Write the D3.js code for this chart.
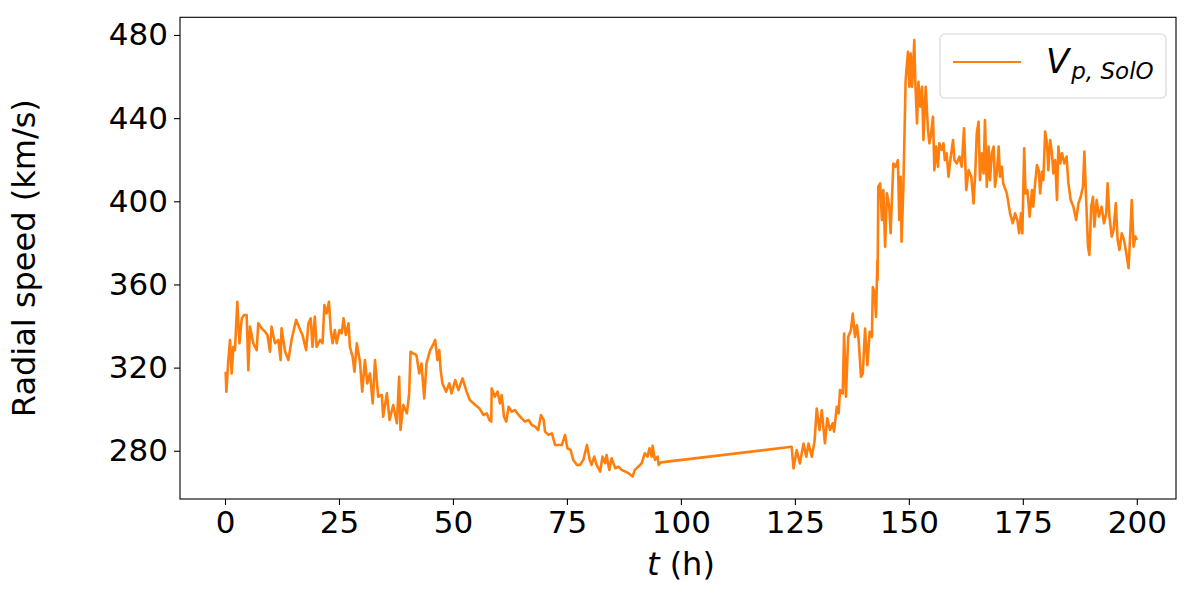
<!DOCTYPE html>
<html>
<head>
<meta charset="utf-8">
<script src="https://cdn.jsdelivr.net/npm/d3@7"></script>
<style>
  body { margin: 0; background: #fff; }
  text { font-family: "DejaVu Sans", sans-serif; }
</style>
</head>
<body>
<div id="chart"></div>
<script>
// hours since start
var tHours = [
  0.15, 0.3, 0.73, 1.1, 1.46, 1.83, 2.19, 2.7, 3.17, 3.68, 4.2, 4.75, 5.12, 5.49, 6.2, 6.95,
  7.3, 8.05, 8.78, 9.3, 9.87, 10.2, 10.97, 11.7, 12.2, 12.4, 13.2, 13.9, 14.6, 15.6, 16.5, 17.0,
  17.8, 18.3, 18.8, 19.2, 19.7, 20.1, 20.84, 21.4, 21.8, 22.3, 22.8, 23.2, 23.6, 24.1, 24.5, 25.1,
  25.6, 26.0, 26.5, 27.1, 27.4, 28.0, 28.4, 28.9, 29.6, 30.1, 30.7, 31.2, 31.8, 32.4, 32.9, 33.6,
  34.4, 34.7, 35.5, 36.1, 36.9, 37.7, 38.2, 38.5, 39.1, 39.9, 40.4, 40.7, 41.3, 42.0, 42.6, 43.1,
  43.7, 44.2, 45.0, 45.6, 46.1,
  46.6, 47.0, 47.3, 47.7, 48.5, 49.2, 49.7, 50.5, 51.2, 52.1, 53.0, 53.7, 54.9, 55.8, 56.7, 57.4,
  58.0, 58.4, 58.5, 59.2, 59.8, 60.3, 60.7, 61.2, 61.7, 62.2, 62.9, 63.6, 64.4, 65.1, 65.8, 66.6,
  67.3, 68.0, 68.7, 69.3, 69.9, 70.2, 71.0, 71.7, 72.4, 73.1, 73.9, 74.6, 75.1, 75.8, 76.4, 77.2,
  77.9, 78.6, 79.4, 80.0, 80.4, 81.0, 81.5, 82.3, 82.8, 83.4, 83.7, 84.3, 84.8, 85.6, 86.3, 87.0,
  87.8, 88.5, 89.4, 89.9, 90.7, 91.4, 92.1, 92.7, 93.1, 93.6, 93.8, 94.3, 94.9, 95.1, 95.6,
  124.3, 124.7, 125.4, 126.1, 126.9, 127.5, 128.0, 128.7, 129.3, 129.8, 130.4, 130.9,
  131.6, 132.1, 132.7, 133.3, 133.6, 134.2, 134.6, 134.9, 135.5, 135.8, 136.2, 136.7, 137.3, 137.7,
  138.2, 138.6, 139.0, 139.5, 139.9, 140.4, 140.9, 141.4, 141.9, 142.1, 142.5, 142.8, 143.1,
  143.15, 143.3, 143.7, 144.1, 144.4, 144.8, 145.2, 145.7, 146.0, 146.6, 147.1, 147.6, 147.9, 148.2,
  148.4, 148.8, 149.3, 149.8, 150.1, 150.4, 150.7, 151.2, 151.4, 151.8, 152.1, 152.5, 152.9, 153.2,
  153.7, 154.2, 154.5, 154.8, 155.3, 155.6, 156.0, 156.4, 156.7, 157.2, 157.6, 157.9, 158.3, 158.7,
  159.1, 159.7, 160.0, 160.5, 161.1, 161.6, 162.1, 162.6, 163.1, 163.7, 164.2, 164.6, 164.9, 165.3,
  165.6, 166.0, 166.4, 166.7, 167.1, 167.5, 167.8, 168.2, 168.6, 168.9, 169.3, 169.7, 170.0, 170.4,
  170.7, 171.5, 172.2,
  172.8, 173.3, 173.8, 174.2, 174.6, 174.9, 175.3, 175.6, 176.0, 176.5, 177.0, 177.3, 177.7, 178.1,
  178.5, 178.8, 179.2, 179.5, 179.9, 180.3, 180.6, 181.0, 181.4, 181.7, 182.1, 182.5, 182.8, 183.2,
  183.6, 184.1, 184.6, 185.0, 185.5, 186.1, 186.7, 187.2, 187.7, 188.2, 188.5, 188.9, 189.3, 189.6,
  190.0, 190.4, 190.7, 191.2, 191.7, 192.3, 192.8, 193.3, 193.6, 194.0, 194.5, 194.9, 195.4, 195.8,
  196.2, 196.7, 197.2, 197.7, 198.2, 198.5, 198.9, 199.3, 199.7, 200.0
];

// radial proton speed, km/s
var vSpeed = [
  318, 308.4, 323.6, 333.3, 317.2, 330, 328.4, 351.7, 331.7, 343.7, 345.3, 345.3, 318.8, 339.7, 331.7, 328.4,
  341.3, 338.9, 337.3, 335.7, 327.6, 339.7, 331.7, 333.3, 323.6, 338.9, 327.6, 323.6, 333.3, 343, 338.1, 335.7,
  328.4, 341.3, 343.7, 330, 344.5, 330, 333.3, 331.7, 350.1, 346.1, 351.7, 338.1, 331.7, 338.1, 331.7, 338.1,
  336.5, 343.7, 335.7, 341.3, 330, 325.2, 318, 331.7, 322.8, 308.4, 323.6, 312.4, 317.2, 302.8, 323.6, 306,
  306.8, 296.4, 307.6, 294.8, 302, 293.2, 315.6, 290, 302, 298, 307.6, 327.6, 326.8, 326, 317.2, 322,
  305.2, 322, 328.4, 330.8, 333.3,
  323.6, 328.4, 318.8, 312.4, 308.4, 312.4, 307.6, 314, 309.2, 314.8, 308.4, 304.4, 302, 300.4, 297.2, 298,
  294.8, 294, 310, 306, 308.4, 302.8, 306.8, 296.4, 294, 301.2, 298.8, 299.6, 297.2, 295.6, 294, 294.8,
  292.4, 291.6, 290, 297.2, 294.8, 289.2, 287.6, 288.4, 282.8, 282.8, 282.8, 287.6, 281.2, 280.4, 275.6, 273.2,
  273.2, 275.6, 282.8, 275.6, 273.2, 277.2, 273.2, 270, 277.2, 274, 278, 270.8, 276.4, 271.6, 272.4, 270.8,
  270, 269.2, 267.6, 270.8, 272.4, 274, 278.8, 277.2, 281.2, 277.2, 282.4, 275.6, 277.2, 273.2, 274.4,
  281.9, 271.5, 280.3, 273.9, 283.5, 277.1, 283.5, 277.1, 284.3, 300.3, 289.9, 299.5,
  283.6, 295.6, 290, 293.2, 289.2, 301.2, 298, 309.2, 307.6, 336.4, 306, 334.8, 338, 346,
  334.8, 340.4, 333.2, 315.6, 317.2, 338.8, 321.2, 337.2, 334.8, 358.8, 355.6, 344.4, 371.6,
  362.1, 407, 408.6, 391, 405.4, 378.2, 403.8, 397.4, 384.6, 418.2, 416.6, 419.8, 391, 411.8,
  380.6, 407, 458.3, 471.9, 455.1, 471.1, 455.1, 477.5, 458.3, 437.5, 457.5, 445.5, 455.1, 429.5,
  455.1, 434.3, 427.9, 431.1, 440.7, 415, 426.3, 416.6, 427.9, 424.7, 427.9, 419.8, 423.1, 411.8,
  419.8, 429.5, 419.8, 418.2, 421.5, 416.6, 435.1, 405.4, 415, 411.8, 399, 415, 432.7, 438.3,
  410.2, 423.1, 413.4, 439.1, 407, 426.3, 410.2, 423.1, 426.3, 407, 413.4, 426.3, 411.8, 416.6,
  408.6, 403.8, 394.2,
  389.4, 394.2, 391, 384.6, 394.2, 384.6, 425.5, 403.8, 405.4, 392.6, 405.4, 397.4, 408.6, 417.4,
  415, 403.8, 414.2, 410.2, 433.5, 427.9, 415, 429.5, 423.1, 413.4, 419.8, 400.6, 426.3, 418.2,
  423.1, 418.2, 421.5, 408.6, 400.6, 397.4, 391, 399, 402.2, 407, 423.9, 400.6, 378.2, 374.2,
  397.4, 402.2, 387.8, 400.6, 392.6, 397.4, 389.4, 394.2, 408.6, 392.6, 383, 386.2, 399, 381.4,
  376.6, 384.6, 381.4, 375, 367.8, 381.4, 400.6, 378.2, 383, 381.4
];

var xTicks = [0, 25, 50, 75, 100, 125, 150, 175, 200];
var yTicks = [280, 320, 360, 400, 440, 480];

var width = 1200;
var height = 600;
// plot box (window.top is taken, so use other names)
var plotLeft = 180, plotRight = 1176, plotTop = 17.3, plotBottom = 499;
var lineColor = "#ff7f0e";

var svg = d3.select("#chart")
  .append("svg")
    .attr("width", width)
    .attr("height", height);

var x = d3.scaleLinear().domain([-9.87, 208.6]).range([plotLeft, plotRight]);
var y = d3.scaleLinear().domain([256.8, 488.5]).range([plotBottom, plotTop]);

var points = tHours.map(function (t, i) { return [t, vSpeed[i]]; });

// clip so nothing spills out of the axes
svg.append("defs").append("clipPath")
    .attr("id", "plot-clip")
  .append("rect")
    .attr("x", plotLeft)
    .attr("y", plotTop)
    .attr("width", plotRight - plotLeft)
    .attr("height", plotBottom - plotTop);

var line = d3.line()
  .x(function (d) { return x(d[0]); })
  .y(function (d) { return y(d[1]); });

svg.append("path")
  .datum(points)
  .attr("clip-path", "url(#plot-clip)")
  .attr("fill", "none")
  .attr("stroke", lineColor)
  .attr("stroke-width", 2.6)
  .attr("stroke-linejoin", "round")
  .attr("d", line);

// axes
var xAxis = svg.append("g")
  .attr("transform", "translate(0," + plotBottom + ")")
  .call(d3.axisBottom(x).tickValues(xTicks).tickSize(6).tickPadding(6).tickFormat(d3.format("d")));

var yAxis = svg.append("g")
  .attr("transform", "translate(" + plotLeft + ",0)")
  .call(d3.axisLeft(y).tickValues(yTicks).tickSize(6).tickPadding(6).tickFormat(d3.format("d")));

[xAxis, yAxis].forEach(function (g) {
  g.select(".domain").remove();
  g.selectAll(".tick line").attr("stroke", "#000").attr("stroke-width", 1.1);
  g.selectAll(".tick text")
    .attr("fill", "#000")
    .style("font-family", "'DejaVu Sans', sans-serif")
    .style("font-size", "31px");
});

// frame
svg.append("rect")
  .attr("x", plotLeft)
  .attr("y", plotTop)
  .attr("width", plotRight - plotLeft)
  .attr("height", plotBottom - plotTop)
  .attr("fill", "none")
  .attr("stroke", "#000")
  .attr("stroke-width", 1.1);

// axis labels
var xLabel = svg.append("text")
  .attr("x", (x(0) + x(200)) / 2)
  .attr("y", 575)
  .attr("text-anchor", "middle")
  .style("font-size", "32px");
xLabel.append("tspan").style("font-style", "italic").text("t");
xLabel.append("tspan").text(" (h)");

svg.append("text")
  .attr("transform", "translate(35," + ((plotTop + plotBottom) / 2) + ") rotate(-90)")
  .attr("text-anchor", "middle")
  .style("font-size", "32px")
  .text("Radial speed (km/s)");

// legend
var legend = svg.append("g");
legend.append("rect")
  .attr("x", 940)
  .attr("y", 34)
  .attr("width", 226)
  .attr("height", 64)
  .attr("rx", 5)
  .attr("fill", "#fff")
  .attr("fill-opacity", 0.8)
  .attr("stroke", "#d6d6d6")
  .attr("stroke-width", 1.1);

legend.append("line")
  .attr("x1", 953)
  .attr("x2", 1021)
  .attr("y1", 62)
  .attr("y2", 62)
  .attr("stroke", lineColor)
  .attr("stroke-width", 2.2);

var legText = legend.append("text")
  .attr("x", 1046)
  .attr("y", 73)
  .style("font-style", "italic");
legText.append("tspan").style("font-size", "34px").text("V");
legText.append("tspan")
  .attr("dy", 6)
  .attr("dx", 2)
  .style("font-size", "23px")
  .text("p, SolO");
</script>
</body>
</html>
